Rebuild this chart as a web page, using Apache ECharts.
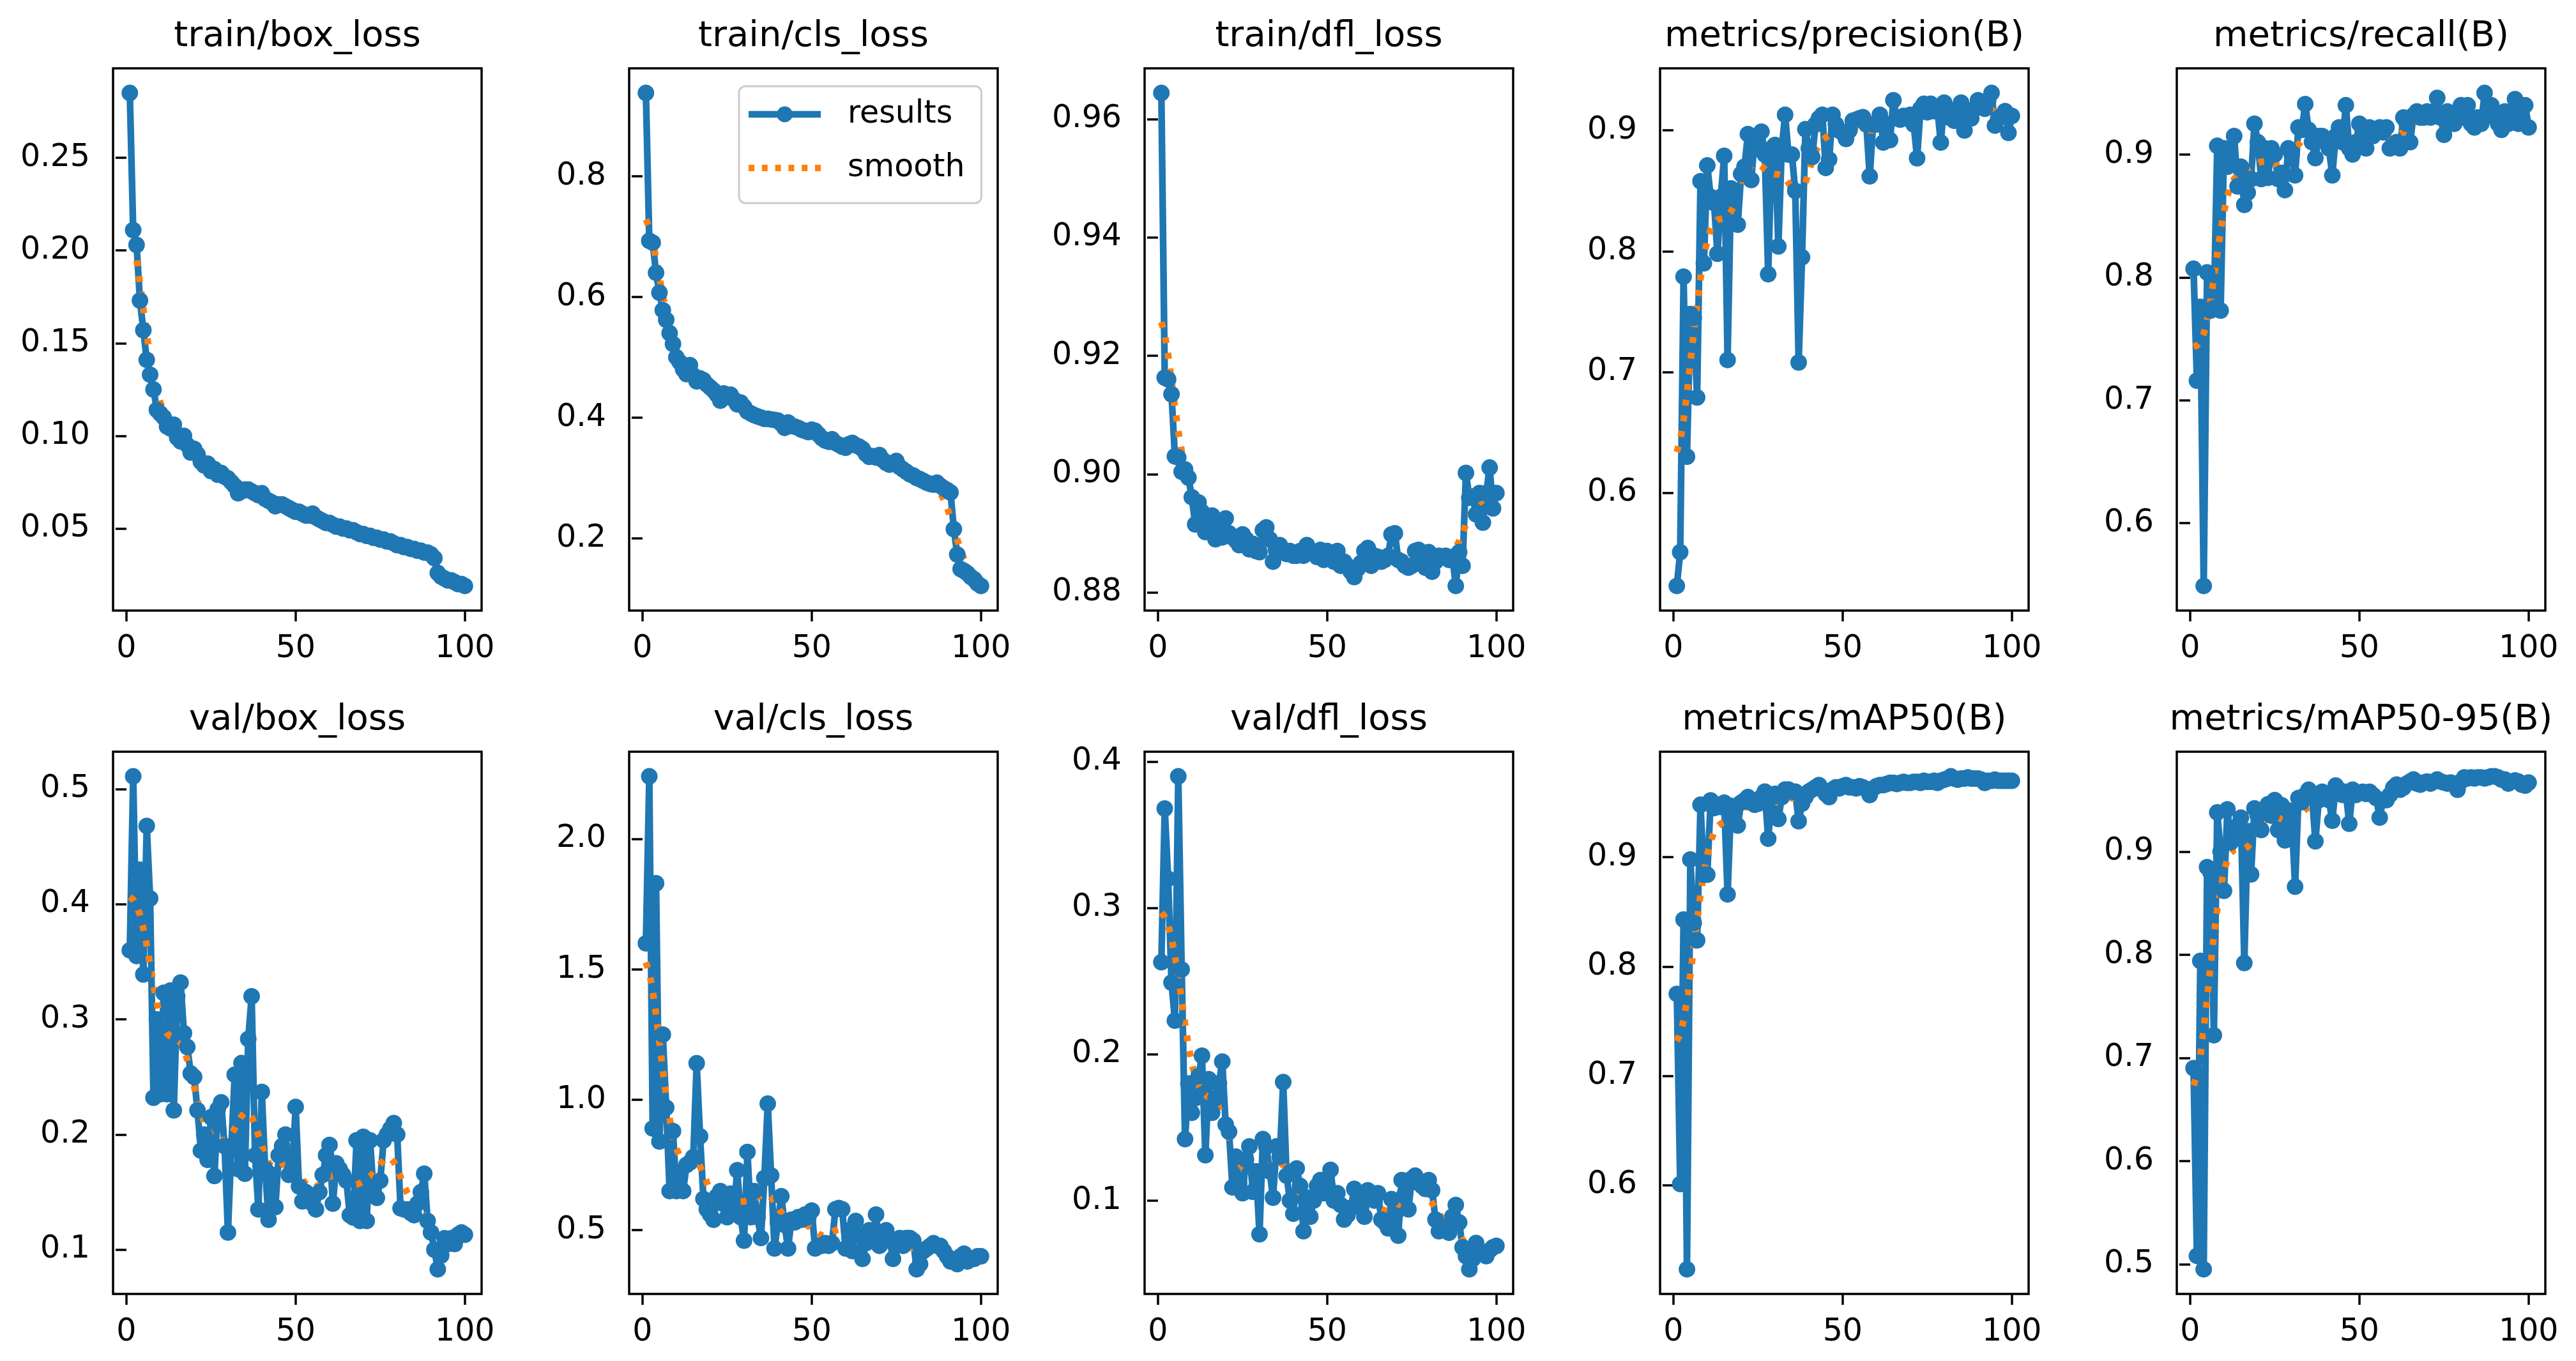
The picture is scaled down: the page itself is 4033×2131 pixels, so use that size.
<!DOCTYPE html>
<html>
<head>
<meta charset="utf-8">
<title>results</title>
<script src="https://cdn.jsdelivr.net/npm/echarts@6/dist/echarts.min.js"></script>
<style>
  html, body { margin: 0; padding: 0; background: #fff; }
  #chart { width: 4033px; height: 2131px; }
</style>
</head>
<body>
<div id="chart"></div>
<script>
// epochs on the x axis
const epochs = [1,2,3,4,5,6,7,8,9,10,11,12,13,14,15,16,17,18,19,20,
  21,22,23,24,25,26,27,28,29,30,31,32,33,34,35,36,37,38,39,40,
  41,42,43,44,45,46,47,48,49,50,51,52,53,54,55,56,57,58,59,60,
  61,62,63,64,65,66,67,68,69,70,71,72,73,74,75,76,77,78,79,80,
  81,82,83,84,85,86,87,88,89,90,91,92,93,94,95,96,97,98,99,100]

const titles = ['train/box_loss', 'train/cls_loss', 'train/dfl_loss', 'metrics/precision(B)', 'metrics/recall(B)',
  'val/box_loss', 'val/cls_loss', 'val/dfl_loss', 'metrics/mAP50(B)', 'metrics/mAP50-95(B)']

const xTicks = [0, 50, 100]
const yTicks = [
  [0.05, 0.10, 0.15, 0.20, 0.25],
  [0.2, 0.4, 0.6, 0.8],
  [0.88, 0.90, 0.92, 0.94, 0.96],
  [0.6, 0.7, 0.8, 0.9],
  [0.6, 0.7, 0.8, 0.9],
  [0.1, 0.2, 0.3, 0.4, 0.5],
  [0.5, 1.0, 1.5, 2.0],
  [0.1, 0.2, 0.3, 0.4],
  [0.6, 0.7, 0.8, 0.9],
  [0.5, 0.6, 0.7, 0.8, 0.9]
]
const yDecimals = [2, 1, 2, 1, 1, 1, 1, 1, 1, 1]

const trainBoxLoss = [0.285,0.211,0.203,0.173,0.157,0.141,0.133,0.125,0.114,0.112,
  0.110,0.105,0.104,0.106,0.099,0.097,0.100,0.095,0.091,0.093,
  0.090,0.086,0.084,0.085,0.081,0.082,0.079,0.080,0.078,0.077,
  0.075,0.073,0.069,0.070,0.071,0.071,0.070,0.069,0.068,0.069,
  0.066,0.065,0.064,0.062,0.063,0.063,0.062,0.061,0.060,0.059,
  0.059,0.058,0.057,0.057,0.058,0.056,0.055,0.054,0.053,0.053,
  0.052,0.051,0.051,0.050,0.050,0.049,0.049,0.048,0.047,0.047,
  0.046,0.046,0.045,0.045,0.044,0.044,0.043,0.043,0.042,0.041,
  0.041,0.040,0.040,0.039,0.039,0.038,0.038,0.037,0.037,0.036,
  0.034,0.026,0.024,0.023,0.022,0.022,0.021,0.020,0.020,0.019]

const trainClsLoss = [0.938,0.693,0.690,0.640,0.607,0.578,0.562,0.540,0.522,0.500,
  0.492,0.480,0.472,0.487,0.470,0.460,0.465,0.462,0.455,0.450,
  0.445,0.438,0.428,0.440,0.436,0.438,0.430,0.422,0.425,0.418,
  0.410,0.407,0.404,0.402,0.400,0.398,0.398,0.397,0.396,0.395,
  0.390,0.383,0.392,0.386,0.385,0.383,0.380,0.378,0.376,0.380,
  0.378,0.372,0.366,0.362,0.360,0.364,0.358,0.355,0.352,0.350,
  0.356,0.358,0.354,0.352,0.348,0.340,0.335,0.336,0.334,0.338,
  0.330,0.325,0.322,0.325,0.328,0.318,0.314,0.310,0.306,0.304,
  0.300,0.298,0.295,0.292,0.290,0.289,0.292,0.287,0.283,0.280,
  0.276,0.215,0.173,0.149,0.146,0.142,0.136,0.132,0.125,0.121]

const trainDflLoss = [0.9644,0.9163,0.9160,0.9135,0.9030,0.9028,0.9004,0.9008,0.8994,0.8961,
  0.8915,0.8952,0.8936,0.8902,0.8918,0.8930,0.8890,0.8910,0.8893,0.8925,
  0.8900,0.8893,0.8888,0.8880,0.8898,0.8890,0.8873,0.8882,0.8870,0.8868,
  0.8905,0.8910,0.8890,0.8852,0.8872,0.8880,0.8870,0.8865,0.8870,0.8862,
  0.8862,0.8870,0.8862,0.8880,0.8870,0.8868,0.8860,0.8872,0.8855,0.8870,
  0.8862,0.8852,0.8870,0.8845,0.8852,0.8845,0.8835,0.8826,0.8840,0.8850,
  0.8870,0.8875,0.8845,0.8862,0.8860,0.8852,0.8855,0.8862,0.8898,0.8900,
  0.8855,0.8852,0.8845,0.8842,0.8845,0.8870,0.8872,0.8855,0.8842,0.8868,
  0.8835,0.8852,0.8862,0.8860,0.8862,0.8855,0.8860,0.8811,0.8868,0.8845,
  0.9002,0.8960,0.8962,0.8932,0.8968,0.8918,0.8968,0.9011,0.8942,0.8968]

const precisionB = [0.523,0.551,0.779,0.630,0.748,0.745,0.679,0.858,0.790,0.871,
  0.845,0.840,0.798,0.845,0.879,0.710,0.852,0.845,0.822,0.864,
  0.870,0.897,0.859,0.893,0.885,0.899,0.880,0.781,0.885,0.888,
  0.804,0.885,0.913,0.880,0.880,0.850,0.708,0.795,0.901,0.885,
  0.878,0.905,0.910,0.913,0.869,0.876,0.913,0.905,0.900,0.898,
  0.893,0.900,0.908,0.909,0.910,0.911,0.905,0.862,0.905,0.905,
  0.913,0.890,0.905,0.892,0.925,0.910,0.909,0.912,0.910,0.913,
  0.905,0.877,0.918,0.922,0.915,0.922,0.916,0.918,0.890,0.923,
  0.915,0.910,0.908,0.918,0.923,0.900,0.916,0.910,0.918,0.925,
  0.922,0.918,0.925,0.931,0.904,0.910,0.912,0.916,0.898,0.912]

const recallB = [0.807,0.716,0.776,0.549,0.804,0.773,0.775,0.907,0.773,0.905,
  0.890,0.895,0.915,0.874,0.890,0.859,0.869,0.880,0.925,0.910,
  0.880,0.905,0.881,0.905,0.900,0.880,0.885,0.871,0.905,0.900,
  0.883,0.922,0.920,0.941,0.920,0.910,0.897,0.915,0.915,0.910,
  0.905,0.883,0.915,0.922,0.910,0.940,0.905,0.900,0.910,0.925,
  0.920,0.905,0.922,0.915,0.920,0.922,0.918,0.922,0.905,0.906,
  0.910,0.905,0.930,0.925,0.910,0.932,0.935,0.930,0.930,0.935,
  0.930,0.935,0.946,0.930,0.916,0.935,0.930,0.925,0.935,0.940,
  0.930,0.940,0.925,0.922,0.930,0.925,0.950,0.935,0.940,0.930,
  0.925,0.920,0.935,0.925,0.935,0.945,0.925,0.930,0.940,0.922]

const valBoxLoss = [0.360,0.511,0.355,0.430,0.339,0.468,0.405,0.232,0.300,0.235,
  0.323,0.235,0.325,0.221,0.320,0.332,0.288,0.276,0.253,0.250,
  0.221,0.186,0.200,0.178,0.215,0.164,0.222,0.228,0.190,0.115,
  0.190,0.252,0.170,0.262,0.166,0.283,0.320,0.182,0.135,0.237,
  0.170,0.126,0.165,0.137,0.182,0.190,0.200,0.165,0.170,0.224,
  0.155,0.142,0.150,0.145,0.140,0.135,0.150,0.165,0.182,0.191,
  0.140,0.175,0.170,0.165,0.160,0.130,0.128,0.195,0.125,0.198,
  0.125,0.195,0.150,0.145,0.160,0.195,0.200,0.205,0.210,0.200,
  0.136,0.135,0.135,0.132,0.130,0.140,0.150,0.166,0.125,0.115,
  0.100,0.083,0.095,0.110,0.105,0.110,0.105,0.113,0.115,0.113]

const valClsLoss = [1.60,2.24,0.89,1.83,0.84,1.25,0.97,0.65,0.88,0.65,
  0.72,0.65,0.75,0.76,0.78,1.14,0.86,0.62,0.58,0.56,
  0.54,0.63,0.65,0.60,0.55,0.64,0.58,0.73,0.55,0.46,
  0.80,0.55,0.65,0.55,0.47,0.70,0.985,0.71,0.43,0.53,
  0.63,0.52,0.43,0.54,0.53,0.55,0.54,0.56,0.55,0.575,
  0.43,0.44,0.44,0.45,0.44,0.45,0.58,0.585,0.58,0.43,
  0.50,0.42,0.535,0.48,0.39,0.45,0.50,0.46,0.56,0.44,
  0.455,0.50,0.47,0.39,0.44,0.47,0.44,0.47,0.47,0.46,
  0.35,0.37,0.42,0.43,0.44,0.45,0.44,0.44,0.42,0.40,
  0.38,0.38,0.37,0.40,0.41,0.38,0.39,0.39,0.40,0.40]

const valDflLoss = [0.263,0.368,0.320,0.249,0.223,0.390,0.258,0.142,0.180,0.160,
  0.170,0.185,0.199,0.131,0.183,0.160,0.170,0.180,0.195,0.152,
  0.147,0.109,0.130,0.112,0.105,0.128,0.137,0.106,0.120,0.077,
  0.142,0.137,0.120,0.102,0.137,0.130,0.181,0.117,0.100,0.091,
  0.122,0.110,0.079,0.102,0.089,0.100,0.110,0.114,0.105,0.110,
  0.121,0.100,0.105,0.097,0.087,0.090,0.095,0.108,0.105,0.095,
  0.089,0.107,0.102,0.100,0.105,0.087,0.085,0.081,0.101,0.090,
  0.076,0.114,0.105,0.094,0.115,0.117,0.112,0.110,0.108,0.114,
  0.107,0.087,0.079,0.082,0.080,0.078,0.089,0.097,0.085,0.068,
  0.062,0.053,0.060,0.071,0.065,0.064,0.062,0.066,0.068,0.069]

const mAP50B = [0.775,0.601,0.843,0.523,0.898,0.840,0.824,0.948,0.884,0.884,
  0.952,0.945,0.948,0.946,0.950,0.866,0.947,0.940,0.929,0.950,
  0.952,0.955,0.950,0.948,0.949,0.955,0.960,0.917,0.955,0.958,
  0.935,0.955,0.962,0.962,0.960,0.960,0.933,0.949,0.955,0.960,
  0.962,0.964,0.966,0.962,0.958,0.955,0.962,0.964,0.963,0.965,
  0.966,0.964,0.964,0.963,0.965,0.964,0.962,0.957,0.963,0.965,
  0.966,0.966,0.967,0.968,0.968,0.967,0.968,0.969,0.968,0.968,
  0.969,0.969,0.968,0.970,0.969,0.969,0.970,0.968,0.970,0.971,
  0.972,0.974,0.972,0.971,0.972,0.972,0.973,0.972,0.972,0.972,
  0.971,0.968,0.970,0.970,0.971,0.970,0.970,0.970,0.970,0.970]

const mAP5095B = [0.690,0.508,0.794,0.495,0.885,0.880,0.722,0.938,0.900,0.862,
  0.941,0.909,0.920,0.925,0.933,0.792,0.920,0.878,0.942,0.935,
  0.921,0.940,0.946,0.935,0.950,0.921,0.945,0.911,0.940,0.935,
  0.866,0.952,0.948,0.955,0.960,0.955,0.910,0.950,0.958,0.955,
  0.950,0.930,0.964,0.960,0.955,0.958,0.927,0.960,0.955,0.957,
  0.958,0.956,0.958,0.955,0.952,0.933,0.950,0.950,0.955,0.962,
  0.965,0.960,0.962,0.966,0.968,0.970,0.966,0.965,0.967,0.968,
  0.966,0.968,0.970,0.968,0.967,0.966,0.967,0.966,0.960,0.968,
  0.972,0.971,0.972,0.971,0.972,0.972,0.971,0.972,0.973,0.973,
  0.972,0.970,0.970,0.966,0.968,0.969,0.968,0.965,0.964,0.967]

const metricValues = [trainBoxLoss, trainClsLoss, trainDflLoss, precisionB, recallB,
  valBoxLoss, valClsLoss, valDflLoss, mAP50B, mAP5095B]

// layout of the 2 x 5 panels, in px
const plotLeft = [177, 985, 1792, 2599, 3408]
const plotTop = [107, 1177]
const plotW = 577
const plotH = 849

const BLUE = '#1f77b4'
const ORANGE = '#ff7f0e'
const FONT = 'DejaVu Sans'
const LINE_W = 10.5
const MARK = 26

// the 'smooth' curve of the source plot is a gaussian filter (sigma 3, reflect edges) of the results
function gaussianSmooth(y, sigma) {
  const r = Math.round(4 * sigma)
  const w = []
  let sum = 0
  for (let k = -r; k <= r; k++) {
    const v = Math.exp(-0.5 * k * k / (sigma * sigma))
    w.push(v)
    sum += v
  }
  const n = y.length
  return y.map((_, i) => {
    let acc = 0
    for (let k = -r; k <= r; k++) {
      let j = i + k
      if (j < 0) j = -j - 1
      if (j >= n) j = 2 * n - j - 1
      acc += y[j] * w[k + r]
    }
    return acc / sum
  })
}

const grids = []
const xAxes = []
const yAxes = []
const titleList = []
const seriesList = []

metricValues.forEach((vals, i) => {
  const col = i % 5
  const row = Math.floor(i / 5)
  const left = plotLeft[col]
  const top = plotTop[row]
  grids.push({
    left: left, top: top, width: plotW, height: plotH,
    show: true, borderColor: '#000', borderWidth: 3.5,
    outerBoundsMode: 'none'
  })
  titleList.push({
    text: titles[i],
    left: left + plotW / 2,
    top: top - 78,
    textAlign: 'center',
    padding: 0,
    textStyle: { fontSize: 56, fontWeight: 'normal', color: '#000', fontFamily: FONT }
  })
  xAxes.push({
    gridIndex: i, type: 'value', min: -3.95, max: 104.95,
    axisLine: { show: false },
    splitLine: { show: false },
    axisTick: { show: true, customValues: xTicks, length: 17, lineStyle: { color: '#000', width: 3.5 } },
    axisLabel: {
      customValues: xTicks, margin: 36, fontSize: 49, color: '#000', fontFamily: FONT,
      formatter: v => String(Math.round(v))
    }
  })
  const lo = Math.min(...vals)
  const hi = Math.max(...vals)
  const pad = (hi - lo) * 0.05
  const dec = yDecimals[i]
  yAxes.push({
    gridIndex: i, type: 'value', min: lo - pad, max: hi + pad,
    axisLine: { show: false },
    splitLine: { show: false },
    axisTick: { show: true, customValues: yTicks[i], length: 17, lineStyle: { color: '#000', width: 3.5 } },
    axisLabel: {
      customValues: yTicks[i], margin: 36, fontSize: 49, color: '#000', fontFamily: FONT,
      formatter: v => Number(v).toFixed(dec)
    }
  })
  seriesList.push({
    type: 'line', name: 'results', xAxisIndex: i, yAxisIndex: i,
    data: epochs.map((e, k) => [e, vals[k]]),
    symbol: 'circle', symbolSize: MARK, showSymbol: true, showAllSymbol: true,
    color: BLUE,
    lineStyle: { width: LINE_W, color: BLUE, join: 'round', cap: 'round' },
    itemStyle: { color: BLUE, borderWidth: 0 },
    silent: true
  })
  const smooth = gaussianSmooth(vals, 3)
  seriesList.push({
    type: 'line', name: 'smooth', xAxisIndex: i, yAxisIndex: i,
    data: epochs.map((e, k) => [e, smooth[k]]),
    symbol: 'none',
    color: ORANGE,
    lineStyle: { width: LINE_W, color: ORANGE, type: [9.3, 15.4], cap: 'butt' },
    itemStyle: { color: ORANGE },
    silent: true
  })
})

// legend handles drawn like the matplotlib ones: thick line with a dot, and a dotted line
const resultsIcon = 'path://M0,6.75h113v10.5h-113zM44,12a12.5,12.5 0 1,1 25,0a12.5,12.5 0 1,1 -25,0z'
const smoothIcon = 'path://M0,0h9v10h-9zM20.8,0h9v10h-9zM41.6,0h9v10h-9zM62.4,0h9v10h-9zM83.2,0h9v10h-9zM104,0h9v10h-9z'

const chart = echarts.init(document.getElementById('chart'), null, { renderer: 'canvas' })
chart.setOption({
  backgroundColor: '#fff',
  animation: false,
  title: titleList,
  legend: {
    left: 1157,
    top: 135,
    orient: 'vertical',
    padding: [16, 26, 27, 15],
    itemGap: 28,
    itemWidth: 113,
    itemHeight: 27,
    backgroundColor: 'rgba(255,255,255,0.8)',
    borderColor: '#cccccc',
    borderWidth: 3,
    borderRadius: 10,
    selectedMode: false,
    itemStyle: { borderWidth: 0 },
    textStyle: { fontSize: 49, lineHeight: 56, color: '#000', fontFamily: FONT, padding: [0, 0, 0, 37] },
    data: [{ name: 'results', icon: resultsIcon }, { name: 'smooth', icon: smoothIcon }]
  },
  grid: grids,
  xAxis: xAxes,
  yAxis: yAxes,
  series: seriesList
})
</script>
</body>
</html>
